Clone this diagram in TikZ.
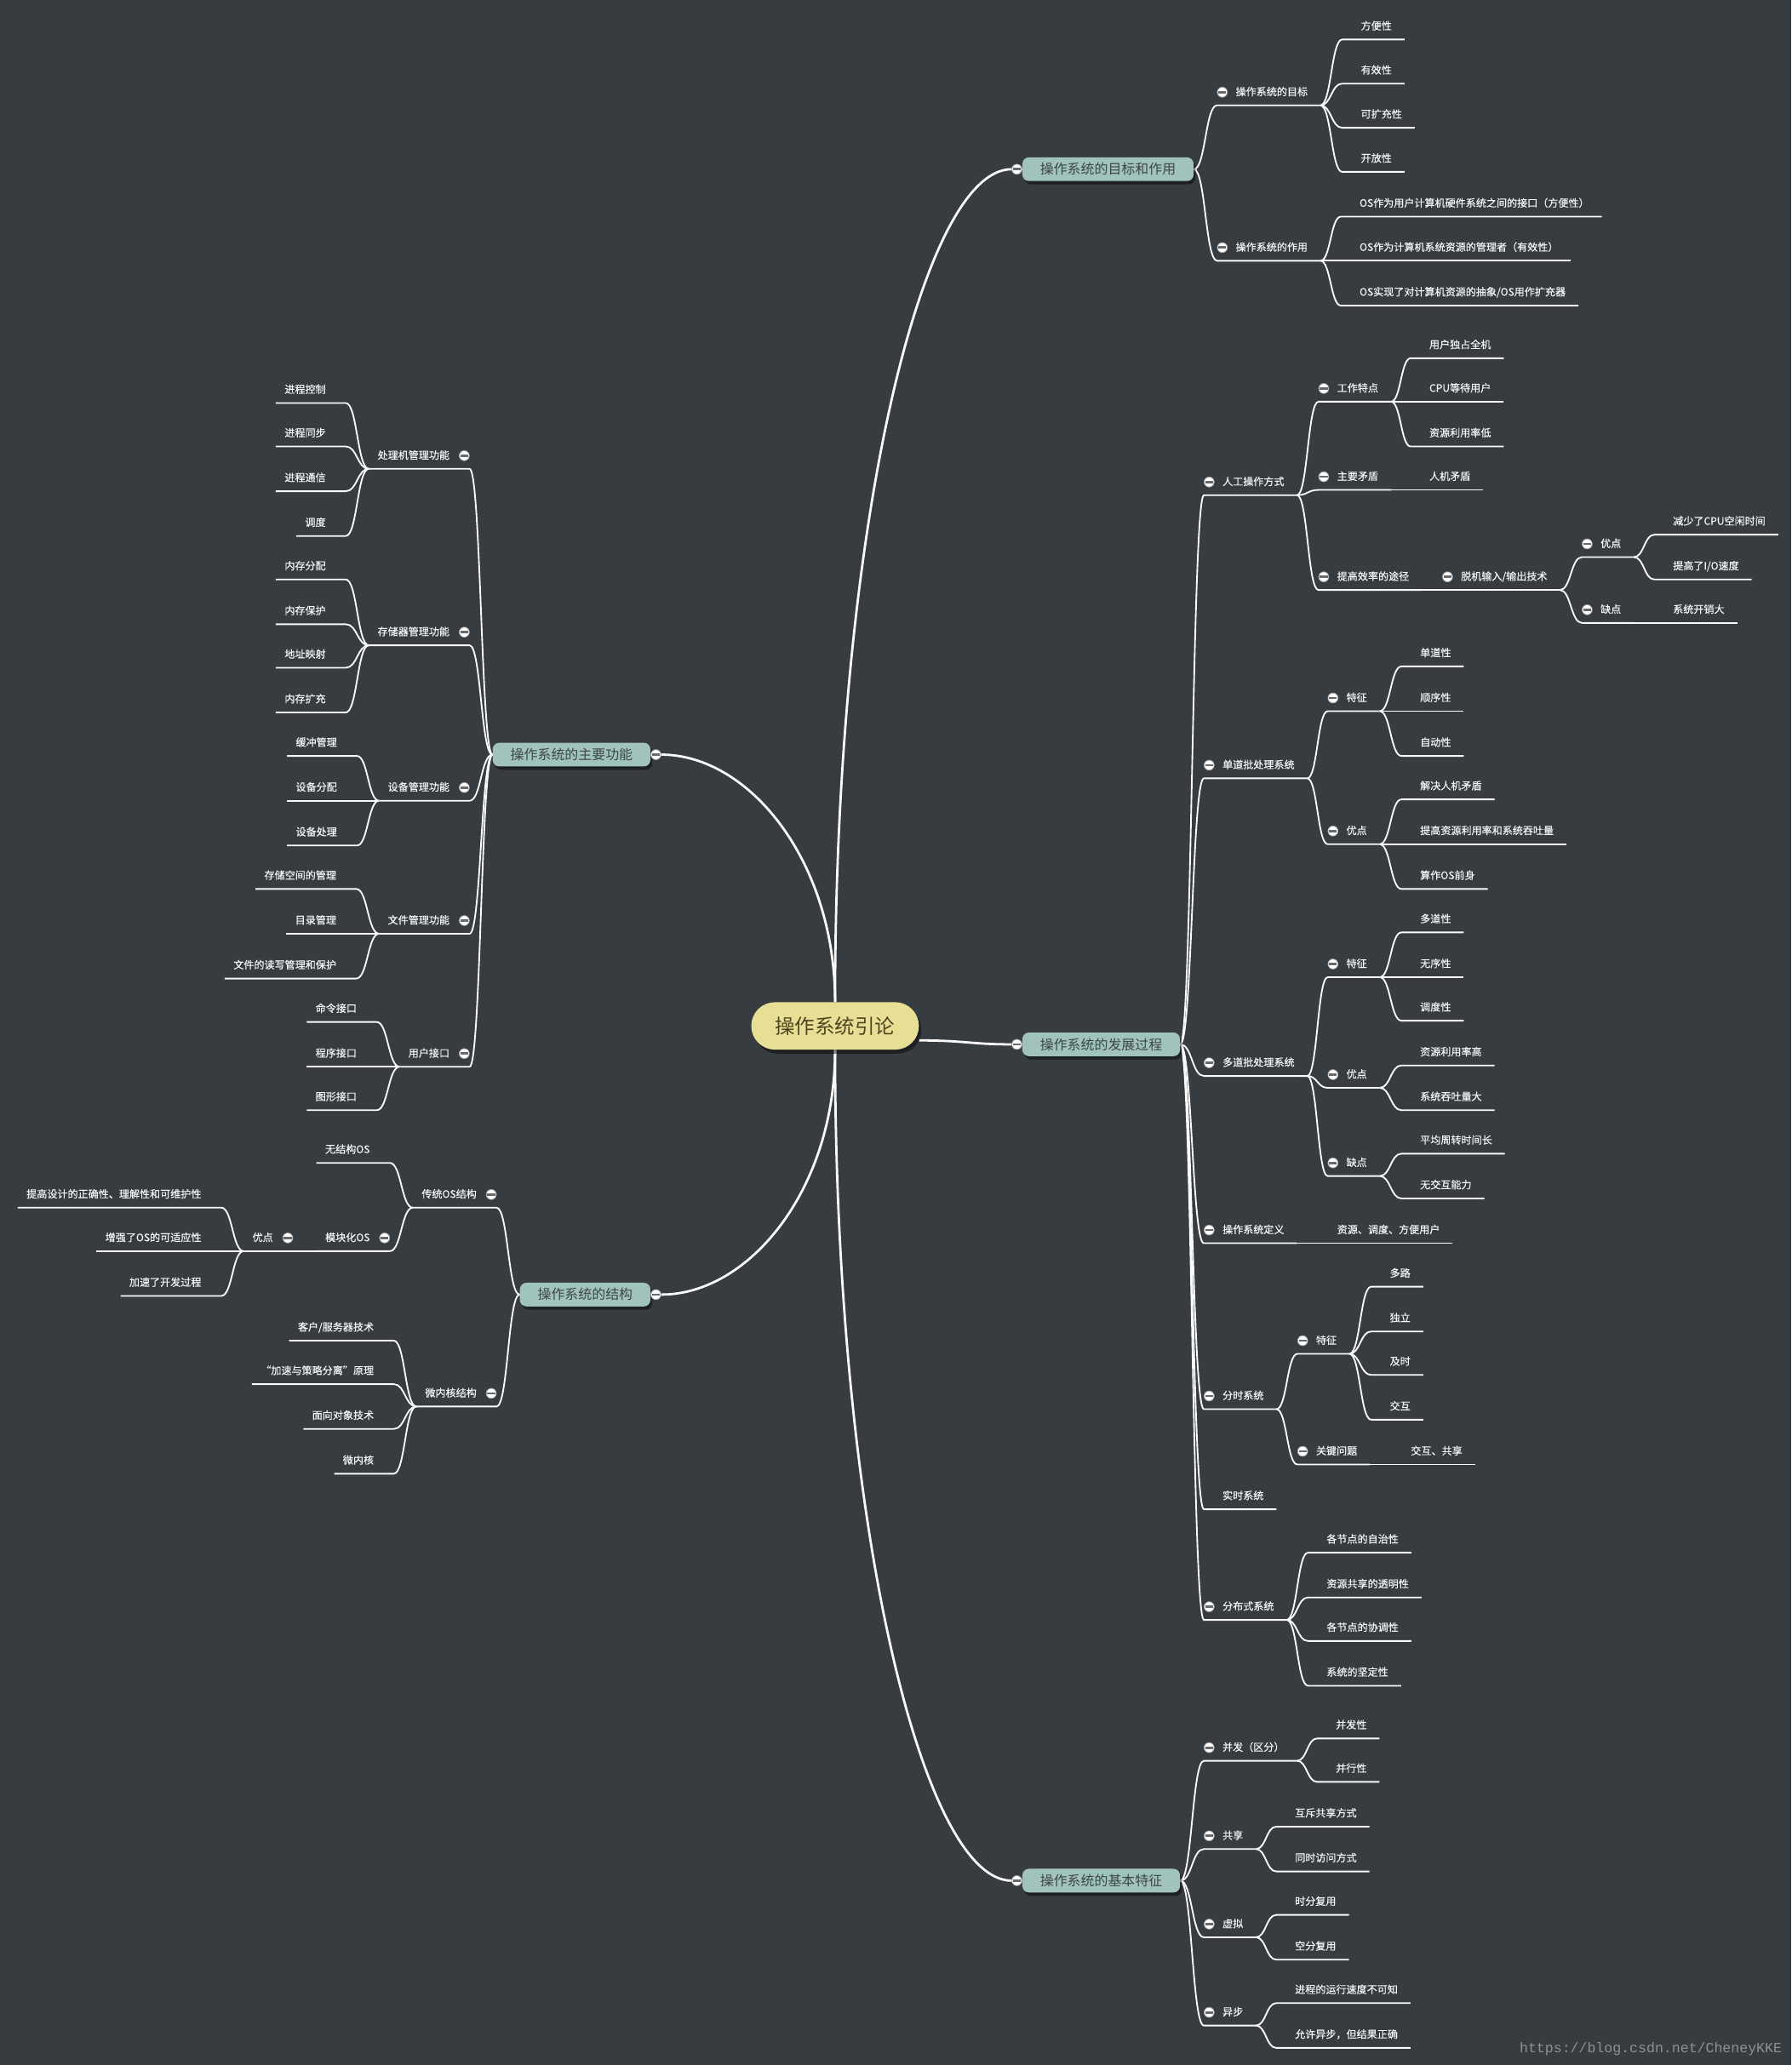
\documentclass[tikz,border=0pt]{standalone}
\usepackage{fontspec}
\setmainfont{Noto Sans CJK SC}
\newfontfamily\leaffont[FakeBold=0.35]{Noto Sans CJK SC}
\newfontfamily\wmfont{Liberation Mono}
\usetikzlibrary{calc,shadows}
\definecolor{bgc}{RGB}{55,60,65}
\definecolor{leafc}{RGB}{246,246,246}
\definecolor{lnc}{RGB}{250,250,250}
\definecolor{pillc}{RGB}{160,196,187}
\definecolor{pilltxt}{RGB}{62,68,72}
\definecolor{ctrc}{RGB}{232,223,150}
\definecolor{ctrtxt}{RGB}{78,68,30}
\definecolor{togbar}{RGB}{105,105,105}
\definecolor{wmc}{RGB}{140,145,150}
\pgfdeclarelayer{bgl}
\pgfdeclarelayer{lines}
\pgfsetlayers{bgl,lines,main}
\tikzset{
  leaf/.style={inner sep=0pt, text height=6.4pt, text depth=1.4pt, text=leafc, font=\leaffont\fontsize{7.8}{9}\selectfont},
  tog/.style={circle, fill=white, draw=black!35, line width=0.5pt, minimum size=7.6pt, inner sep=0pt,
    path picture={\fill[togbar] ([xshift=-3pt,yshift=-0.9pt]path picture bounding box.center) rectangle ([xshift=3pt,yshift=0.9pt]path picture bounding box.center);}},
  ln/.style={draw=lnc, line width=1.2pt},
  mainln/.style={draw=lnc, line width=1.8pt},
  pill/.style={rounded corners=5pt, fill=pillc, text=pilltxt, minimum height=18pt, inner xsep=13.5pt, inner ysep=0pt,
    font=\fontsize{10.3}{11}\selectfont, drop shadow={shadow xshift=1.5pt, shadow yshift=-2.5pt, opacity=0.45, fill=black}},
  ctrnode/.style={rounded corners=17.9pt, fill=ctrc, text=ctrtxt, minimum height=36pt, inner xsep=18pt, inner ysep=0pt,
    font=\fontsize{15.2}{16}\selectfont, drop shadow={shadow xshift=2pt, shadow yshift=-3pt, opacity=0.45, fill=black}},
}
% right-side parent (with toggle), right-side leaf
\newcommand\RP[4]{%
  \node[leaf, anchor=west] (#1) at (#2,#3) {#4};
  \node[tog] (#1-t) at ([xshift=-10pt]#1.west) {};
  \coordinate (#1-s) at ([shift={(-14,10)}]#1.west);
  \coordinate (#1-e) at ([shift={(9.5,10)}]#1.east);}
\newcommand\RL[4]{%
  \node[leaf, anchor=west] (#1) at (#2,#3) {#4};
  \coordinate (#1-s) at ([shift={(-14,10)}]#1.west);
  \coordinate (#1-e) at ([shift={(9.5,10)}]#1.east);}
% left-side parent (with toggle), left-side leaf
\newcommand\LP[4]{%
  \node[leaf, anchor=east] (#1) at (#2,#3) {#4};
  \node[tog] (#1-t) at ([xshift=11pt]#1.east) {};
  \coordinate (#1-s) at ([shift={(15,10)}]#1.east);
  \coordinate (#1-e) at ([shift={(-6.5,10)}]#1.west);}
\newcommand\LL[4]{%
  \node[leaf, anchor=east] (#1) at (#2,#3) {#4};
  \coordinate (#1-s) at ([shift={(15,10)}]#1.east);
  \coordinate (#1-e) at ([shift={(-6.5,10)}]#1.west);}
\newcommand\link[2]{\draw[ln] let \p1=(#1), \p2=(#2-s) in (\p1) .. controls ({0.5*\x1+0.5*\x2},\y1) and ({0.5*\x1+0.5*\x2},\y2) .. (\p2) -- (#2-e);}
% main branch: from a point on the central node to a main toggle
\newcommand\mainlink[2]{\draw[mainln] (#1) .. controls ($(#1)!0.57!(#1 |- #2)$) and ($(#1 |- #2)!0.48!(#2)$) .. (#2);}

\begin{document}
\begin{tikzpicture}[x=1pt,y=-1pt]
\useasboundingbox (0,0) rectangle (1360,1568);
\begin{pgfonlayer}{bgl}
\fill[bgc] (0,0) rectangle (1360,1568);
\end{pgfonlayer}

% ---------- central and main nodes ----------
\node[ctrnode] (ctr) at (634,779) {操作系统引论};
\coordinate (ctrR) at ([yshift=-11pt]ctr.east);

\node[pill, anchor=west] (gm) at (776,128.5) {操作系统的目标和作用};
\node[tog] (gm-t) at ([xshift=-4pt]gm.west) {};
\node[pill, anchor=west] (fz) at (776,793) {操作系统的发展过程};
\node[tog] (fz-t) at ([xshift=-4pt]fz.west) {};
\node[pill, anchor=west] (tz) at (776,1428) {操作系统的基本特征};
\node[tog] (tz-t) at ([xshift=-4pt]tz.west) {};
\node[pill, anchor=east] (zf) at (494,573) {操作系统的主要功能};
\node[tog] (zf-t) at ([xshift=4pt]zf.east) {};
\node[pill, anchor=east] (jg) at (494,983) {操作系统的结构};
\node[tog] (jg-t) at ([xshift=4pt]jg.east) {};

% ---------- 目标和作用 ----------
\RP{g1}{938}{70}{操作系统的目标}
\RL{g1a}{1033}{20}{方便性}
\RL{g1b}{1033}{53.5}{有效性}
\RL{g1c}{1033}{87}{可扩充性}
\RL{g1d}{1033}{120.5}{开放性}
\RP{g2}{938}{188}{操作系统的作用}
\RL{g2a}{1032}{154.5}{OS作为用户计算机硬件系统之间的接口（方便性）}
\RL{g2b}{1032}{188}{OS作为计算机系统资源的管理者（有效性）}
\RL{g2c}{1032}{222}{OS实现了对计算机资源的抽象/OS用作扩充器}

% ---------- 发展过程 ----------
\RP{r1}{928}{366}{人工操作方式}
\RP{r1a}{1015}{295}{工作特点}
\RL{r1a1}{1085}{262}{用户独占全机}
\RL{r1a2}{1085}{295}{CPU等待用户}
\RL{r1a3}{1085}{329}{资源利用率低}
\RP{r1b}{1015}{362}{主要矛盾}
\RL{r1b1}{1085}{362}{人机矛盾}
\RP{r1c}{1015}{438}{提高效率的途径}
\RP{r1d}{1109}{438}{脱机输入/输出技术}
\RP{r1e}{1215}{413}{优点}
\RL{r1e1}{1270}{396}{减少了CPU空闲时间}
\RL{r1e2}{1270}{430}{提高了I/O速度}
\RP{r1f}{1215}{463}{缺点}
\RL{r1f1}{1270}{463}{系统开销大}

\RP{r2}{928}{581}{单道批处理系统}
\RP{r2a}{1022}{530}{特征}
\RL{r2a1}{1078}{496}{单道性}
\RL{r2a2}{1078}{530}{顺序性}
\RL{r2a3}{1078}{564}{自动性}
\RP{r2b}{1022}{631}{优点}
\RL{r2b1}{1078}{597}{解决人机矛盾}
\RL{r2b2}{1078}{631}{提高资源利用率和系统吞吐量}
\RL{r2b3}{1078}{665}{算作OS前身}

\RP{r3}{928}{807}{多道批处理系统}
\RP{r3a}{1022}{732}{特征}
\RL{r3a1}{1078}{698}{多道性}
\RL{r3a2}{1078}{732}{无序性}
\RL{r3a3}{1078}{765}{调度性}
\RP{r3b}{1022}{816}{优点}
\RL{r3b1}{1078}{799}{资源利用率高}
\RL{r3b2}{1078}{833}{系统吞吐量大}
\RP{r3c}{1022}{883}{缺点}
\RL{r3c1}{1078}{866}{平均周转时间长}
\RL{r3c2}{1078}{900}{无交互能力}

\RP{r4}{928}{934}{操作系统定义}
\RL{r4a}{1015}{934}{资源、调度、方便用户}

\RP{r5}{928}{1060}{分时系统}
\RP{r5a}{999}{1018}{特征}
\RL{r5a1}{1055}{967}{多路}
\RL{r5a2}{1055}{1001}{独立}
\RL{r5a3}{1055}{1034}{及时}
\RL{r5a4}{1055}{1068}{交互}
\RP{r5b}{999}{1102}{关键问题}
\RL{r5b1}{1071}{1102}{交互、共享}

\RL{r6}{928}{1136}{实时系统}

\RP{r7}{928}{1220}{分布式系统}
\RL{r7a}{1007}{1169}{各节点的自治性}
\RL{r7b}{1007}{1203}{资源共享的透明性}
\RL{r7c}{1007}{1236}{各节点的协调性}
\RL{r7d}{1007}{1270}{系统的坚定性}

% ---------- 基本特征 ----------
\RP{t1}{928}{1327}{并发（区分）}
\RL{t1a}{1014}{1310}{并发性}
\RL{t1b}{1014}{1343}{并行性}
\RP{t2}{928}{1394}{共享}
\RL{t2a}{983}{1377}{互斥共享方式}
\RL{t2b}{983}{1411}{同时访问方式}
\RP{t3}{928}{1461}{虚拟}
\RL{t3a}{983}{1444}{时分复用}
\RL{t3b}{983}{1478}{空分复用}
\RP{t4}{928}{1528}{异步}
\RL{t4a}{983}{1511}{进程的运行速度不可知}
\RL{t4b}{983}{1545}{允许异步，但结果正确}

% ---------- 主要功能 ----------
\LP{z1}{341.5}{346}{处理机管理功能}
\LL{z1a}{247.5}{296}{进程控制}
\LL{z1b}{247.5}{329}{进程同步}
\LL{z1c}{247.5}{363}{进程通信}
\LL{z1d}{247.5}{397}{调度}
\LP{z2}{341.5}{480}{存储器管理功能}
\LL{z2a}{247.5}{430}{内存分配}
\LL{z2b}{247.5}{464}{内存保护}
\LL{z2c}{247.5}{497}{地址映射}
\LL{z2d}{247.5}{531}{内存扩充}
\LP{z3}{341.5}{598}{设备管理功能}
\LL{z3a}{256}{564}{缓冲管理}
\LL{z3b}{256}{598}{设备分配}
\LL{z3c}{256}{632}{设备处理}
\LP{z4}{341.5}{699}{文件管理功能}
\LL{z4a}{255.5}{665}{存储空间的管理}
\LL{z4b}{255.5}{699}{目录管理}
\LL{z4c}{255.5}{733}{文件的读写管理和保护}
\LP{z5}{341.5}{800}{用户接口}
\LL{z5a}{271}{766}{命令接口}
\LL{z5b}{271}{800}{程序接口}
\LL{z5c}{271}{833}{图形接口}

% ---------- 结构 ----------
\LP{j1}{362}{907}{传统OS结构}
\LL{j1a}{281}{873}{无结构OS}
\LP{j1b}{281}{940}{模块化OS}
\LP{j1c}{207.5}{940}{优点}
\LL{j1c1}{153}{907}{提高设计的正确性、理解性和可维护性}
\LL{j1c2}{153}{940}{增强了OS的可适应性}
\LL{j1c3}{153}{974}{加速了开发过程}
\LP{j2}{362}{1058}{微内核结构}
\LL{j2a}{284}{1008}{客户/服务器技术}
\LL{j2b}{284}{1041}{“加速与策略分离”原理}
\LL{j2c}{284}{1075}{面向对象技术}
\LL{j2d}{284}{1109}{微内核}

% watermark
\node[font=\wmfont\fontsize{10.7}{12}\selectfont, text=wmc, anchor=east, inner sep=0pt] (wm) at (1353,1556) {https://blog.csdn.net/CheneyKKE};

% ---------- connectors ----------
\begin{pgfonlayer}{lines}
\mainlink{ctr.north}{gm-t}
\mainlink{ctr.north}{zf-t}
\mainlink{ctr.south}{tz-t}
\mainlink{ctr.south}{jg-t}
\draw[mainln] (ctrR) .. controls +(35,0) and +(-35,0) .. (fz-t);

\link{gm.east}{g1} \link{gm.east}{g2}
\link{g1-e}{g1a} \link{g1-e}{g1b} \link{g1-e}{g1c} \link{g1-e}{g1d}
\link{g2-e}{g2a} \link{g2-e}{g2b} \link{g2-e}{g2c}

\link{fz.east}{r1} \link{fz.east}{r2} \link{fz.east}{r3} \link{fz.east}{r4}
\link{fz.east}{r5} \link{fz.east}{r6} \link{fz.east}{r7}
\link{r1-e}{r1a} \link{r1-e}{r1b} \link{r1-e}{r1c}
\link{r1a-e}{r1a1} \link{r1a-e}{r1a2} \link{r1a-e}{r1a3}
\link{r1b-e}{r1b1}
\link{r1c-e}{r1d}
\link{r1d-e}{r1e} \link{r1d-e}{r1f}
\link{r1e-e}{r1e1} \link{r1e-e}{r1e2}
\link{r1f-e}{r1f1}
\link{r2-e}{r2a} \link{r2-e}{r2b}
\link{r2a-e}{r2a1} \link{r2a-e}{r2a2} \link{r2a-e}{r2a3}
\link{r2b-e}{r2b1} \link{r2b-e}{r2b2} \link{r2b-e}{r2b3}
\link{r3-e}{r3a} \link{r3-e}{r3b} \link{r3-e}{r3c}
\link{r3a-e}{r3a1} \link{r3a-e}{r3a2} \link{r3a-e}{r3a3}
\link{r3b-e}{r3b1} \link{r3b-e}{r3b2}
\link{r3c-e}{r3c1} \link{r3c-e}{r3c2}
\link{r4-e}{r4a}
\link{r5-e}{r5a} \link{r5-e}{r5b}
\link{r5a-e}{r5a1} \link{r5a-e}{r5a2} \link{r5a-e}{r5a3} \link{r5a-e}{r5a4}
\link{r5b-e}{r5b1}
\link{r7-e}{r7a} \link{r7-e}{r7b} \link{r7-e}{r7c} \link{r7-e}{r7d}

\link{tz.east}{t1} \link{tz.east}{t2} \link{tz.east}{t3} \link{tz.east}{t4}
\link{t1-e}{t1a} \link{t1-e}{t1b}
\link{t2-e}{t2a} \link{t2-e}{t2b}
\link{t3-e}{t3a} \link{t3-e}{t3b}
\link{t4-e}{t4a} \link{t4-e}{t4b}

\link{zf.west}{z1} \link{zf.west}{z2} \link{zf.west}{z3} \link{zf.west}{z4} \link{zf.west}{z5}
\link{z1-e}{z1a} \link{z1-e}{z1b} \link{z1-e}{z1c} \link{z1-e}{z1d}
\link{z2-e}{z2a} \link{z2-e}{z2b} \link{z2-e}{z2c} \link{z2-e}{z2d}
\link{z3-e}{z3a} \link{z3-e}{z3b} \link{z3-e}{z3c}
\link{z4-e}{z4a} \link{z4-e}{z4b} \link{z4-e}{z4c}
\link{z5-e}{z5a} \link{z5-e}{z5b} \link{z5-e}{z5c}

\link{jg.west}{j1} \link{jg.west}{j2}
\link{j1-e}{j1a} \link{j1-e}{j1b}
\link{j1b-e}{j1c}
\link{j1c-e}{j1c1} \link{j1c-e}{j1c2} \link{j1c-e}{j1c3}
\link{j2-e}{j2a} \link{j2-e}{j2b} \link{j2-e}{j2c} \link{j2-e}{j2d}
\end{pgfonlayer}
\end{tikzpicture}
\end{document}
